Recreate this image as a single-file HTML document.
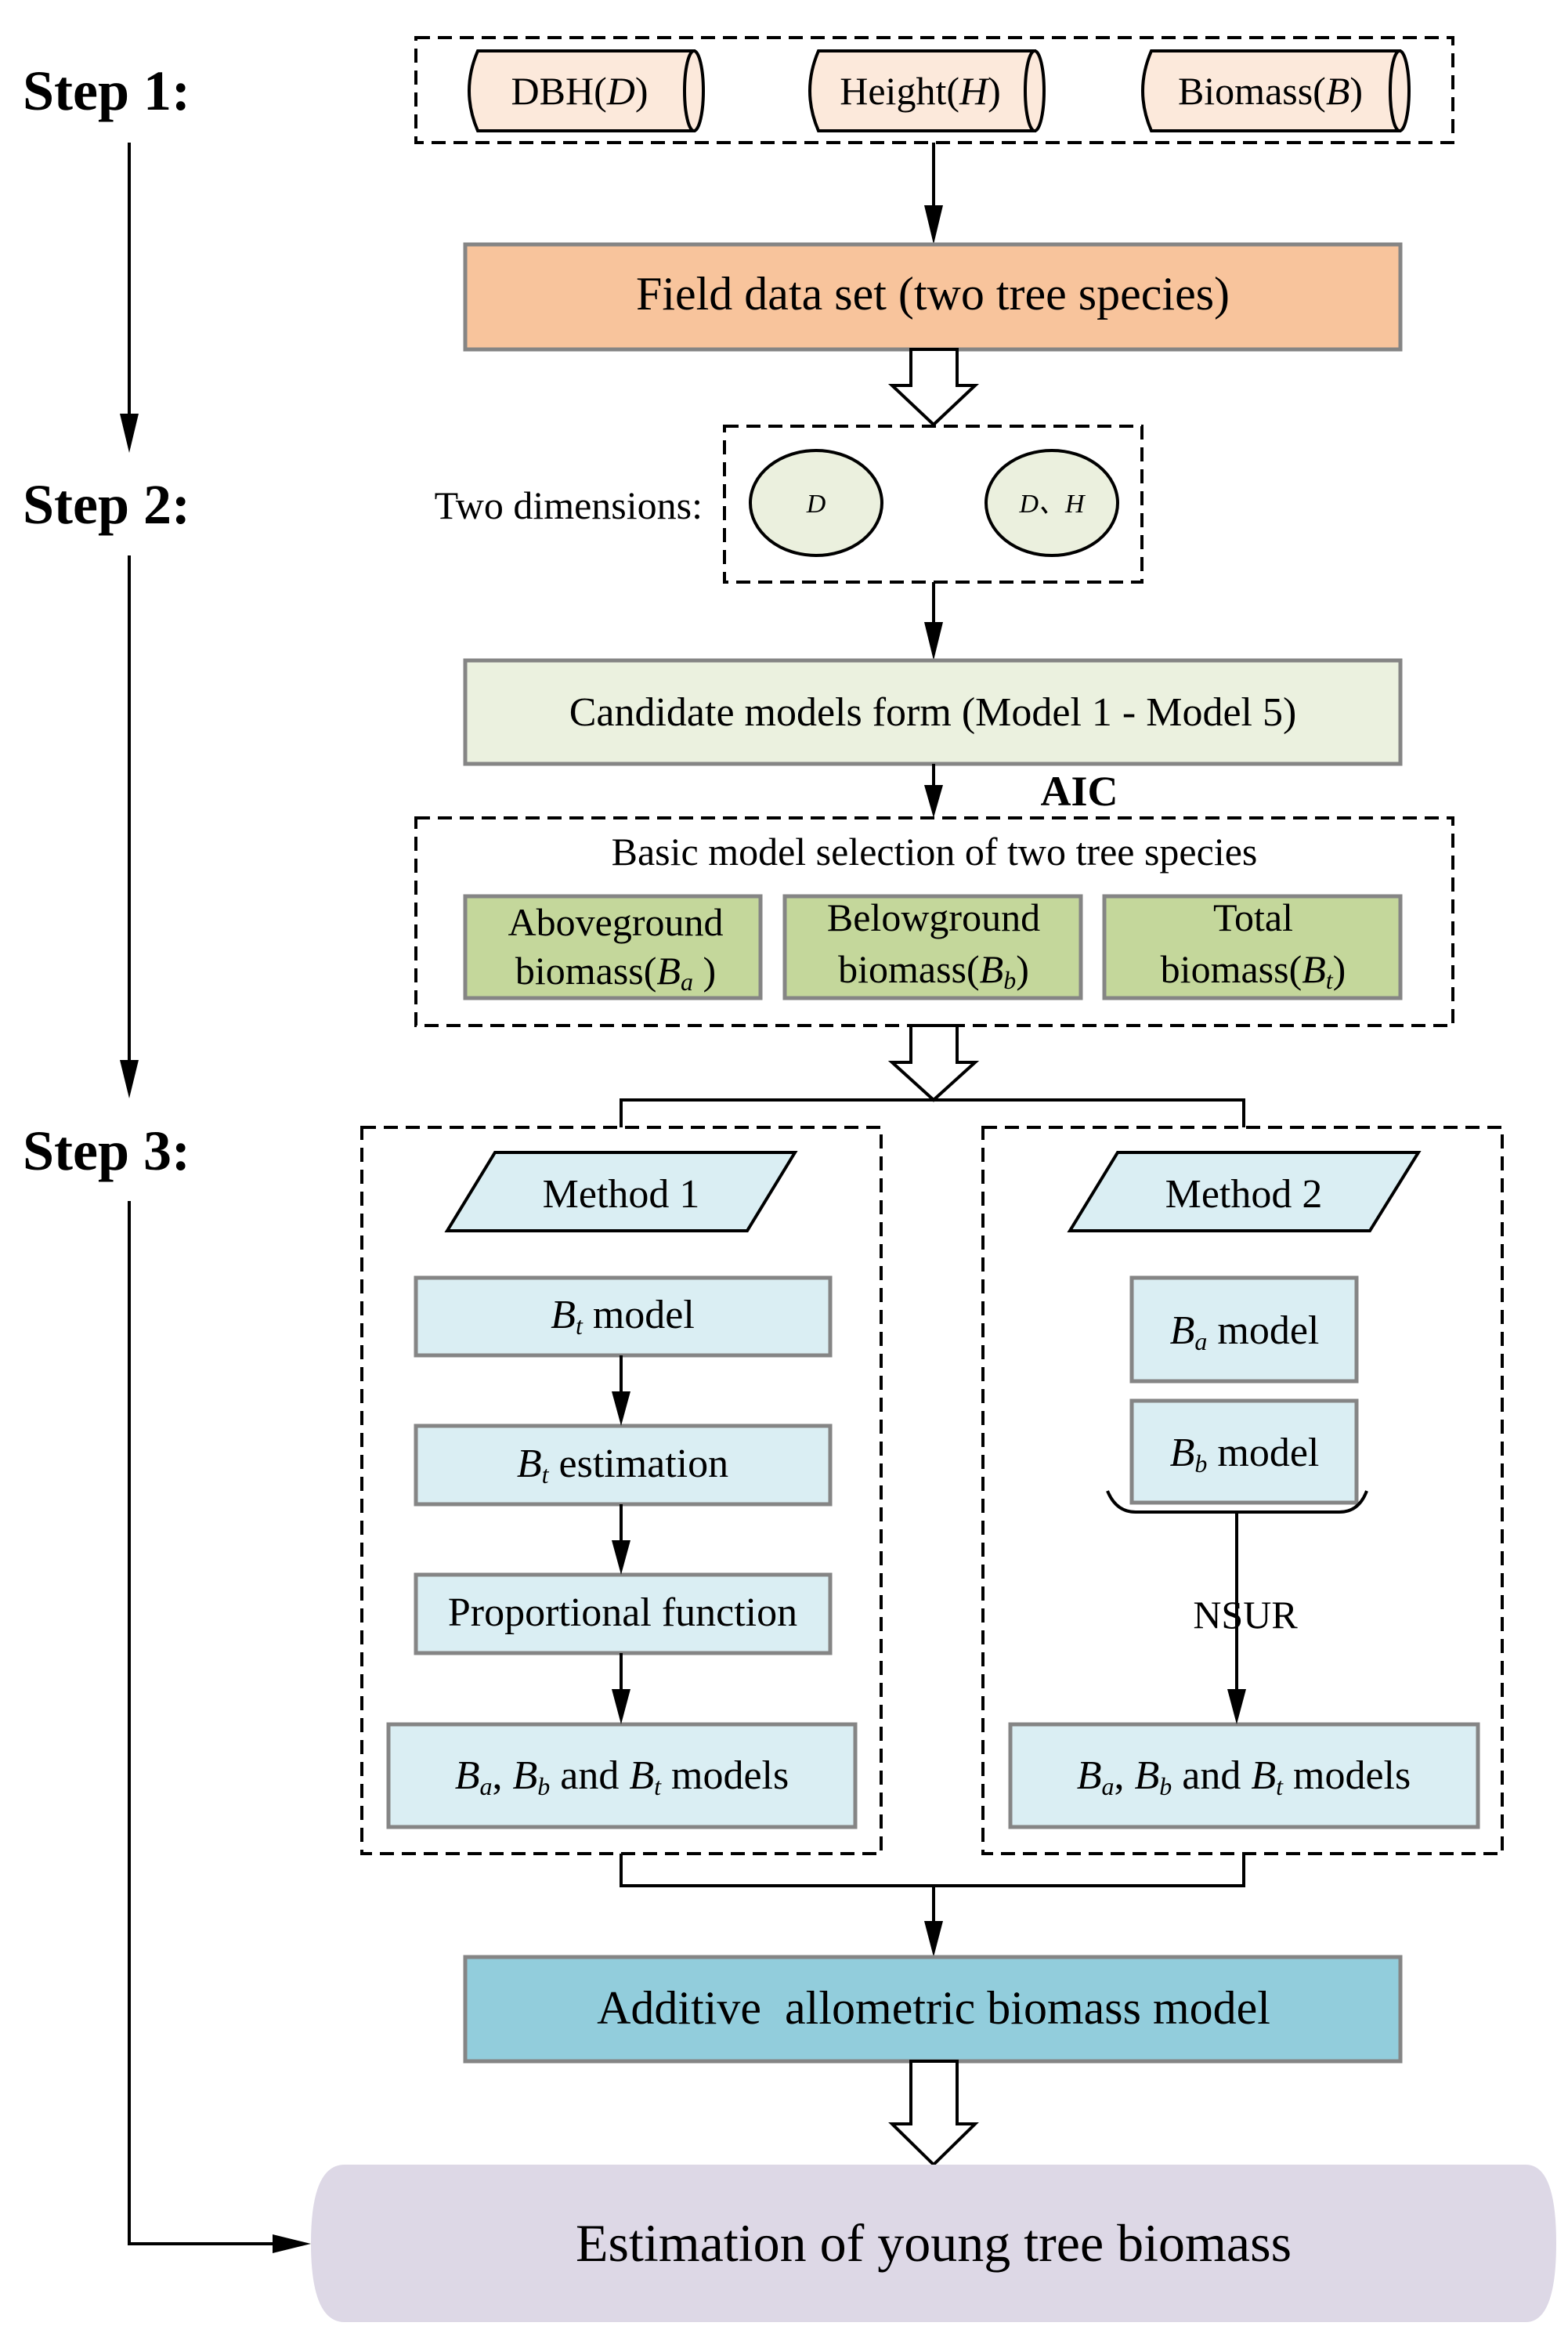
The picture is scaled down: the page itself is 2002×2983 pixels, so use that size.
<!DOCTYPE html>
<html><head><meta charset="utf-8"><style>
html,body{margin:0;padding:0;background:#fff;}
svg{display:block;}
svg text{font-family:"Liberation Serif","Times New Roman",serif !important;fill:#000;}
</style></head><body>
<svg width="2002" height="2983" viewBox="0 0 2002 2983" xmlns="http://www.w3.org/2000/svg" font-family="Liberation Serif, serif">
<style>
text{font-family:"Liberation Serif",serif;}
.dash{fill:none;stroke:#000;stroke-width:4;stroke-dasharray:18 10;}
.ln{stroke:#000;stroke-width:4;fill:none;}
.box{stroke:#858585;stroke-width:5;}
.step{font-weight:bold;font-size:72px;}
</style>

<text class="step" x="29" y="140">Step 1:</text>
<text class="step" x="29" y="668">Step 2:</text>
<text class="step" x="29" y="1493">Step 3:</text>

<line class="ln" x1="165" y1="182" x2="165" y2="530"/>
<polygon points="153,528 177,528 165,578"/>
<line class="ln" x1="165" y1="709" x2="165" y2="1355"/>
<polygon points="153,1353 177,1353 165,1402"/>
<polyline class="ln" points="165,1533 165,2864 350,2864"/>
<polygon points="348,2852 348,2876 397,2864"/>

<rect class="dash" x="531" y="48" width="1324" height="134"/>
<g stroke="#000" stroke-width="4" fill="#fce9db">
<path d="M610,65 L886,65 L886,167 L610,167 Q588,116 610,65Z"/>
<ellipse cx="886" cy="116" rx="12" ry="51"/>
<path d="M1045,65 L1321,65 L1321,167 L1045,167 Q1023,116 1045,65Z"/>
<ellipse cx="1321" cy="116" rx="12" ry="51"/>
<path d="M1470,65 L1787,65 L1787,167 L1470,167 Q1448,116 1470,65Z"/>
<ellipse cx="1787" cy="116" rx="12" ry="51"/>
</g>
<text x="740" y="133" font-size="50" text-anchor="middle">DBH(<tspan font-style="italic">D</tspan>)</text>
<text x="1175" y="133" font-size="50" text-anchor="middle">Height(<tspan font-style="italic">H</tspan>)</text>
<text x="1622" y="133" font-size="50" text-anchor="middle">Biomass(<tspan font-style="italic">B</tspan>)</text>

<line class="ln" x1="1192" y1="182" x2="1192" y2="265"/>
<polygon points="1180,262 1204,262 1192,312"/>

<rect class="box" x="594" y="312" width="1194" height="134" fill="#f8c49c"/>
<text x="1191" y="395" font-size="60" text-anchor="middle">Field data set (two tree species)</text>

<polygon points="1163,446 1222,446 1222,492 1245,492 1192,542 1139,492 1163,492" fill="#fff" stroke="#000" stroke-width="4"/>

<text x="897" y="662" font-size="50" text-anchor="end">Two dimensions:</text>
<rect class="dash" x="925" y="544" width="533" height="199"/>
<ellipse cx="1042" cy="642" rx="84" ry="67" fill="#ebf0de" stroke="#000" stroke-width="4"/>
<ellipse cx="1343" cy="642" rx="84" ry="67" fill="#ebf0de" stroke="#000" stroke-width="4"/>
<text x="1042" y="654" font-size="34" font-style="italic" text-anchor="middle">D</text>
<text x="1343" y="654" font-size="34" font-style="italic" text-anchor="middle">D、H</text>

<line class="ln" x1="1192" y1="743" x2="1192" y2="797"/>
<polygon points="1180,794 1204,794 1192,843"/>

<rect class="box" x="594" y="843" width="1194" height="132" fill="#ebf1df"/>
<text x="1191" y="926" font-size="52" text-anchor="middle">Candidate models form (Model 1 - Model 5)</text>

<line class="ln" x1="1192" y1="975" x2="1192" y2="1005"/>
<polygon points="1180,1002 1204,1002 1192,1044"/>
<text x="1378" y="1028" font-size="54" font-weight="bold" text-anchor="middle">AIC</text>

<rect class="dash" x="531" y="1044" width="1324" height="265"/>
<text x="1193" y="1104" font-size="50" text-anchor="middle">Basic model selection of two tree species</text>
<g class="box" fill="#c4d79b">
<rect x="594" y="1144" width="377" height="130"/>
<rect x="1002" y="1144" width="378" height="130"/>
<rect x="1410" y="1144" width="378" height="130"/>
</g>
<text font-size="50" text-anchor="middle"><tspan x="786" y="1194">Aboveground</tspan><tspan x="786" y="1256">biomass(<tspan font-style="italic">B</tspan><tspan font-style="italic" font-size="32" dy="8">a</tspan><tspan dy="-8"> )</tspan></tspan></text>
<text font-size="50" text-anchor="middle"><tspan x="1192" y="1188">Belowground</tspan><tspan x="1192" y="1254">biomass(<tspan font-style="italic">B</tspan><tspan font-style="italic" font-size="32" dy="8">b</tspan><tspan dy="-8">)</tspan></tspan></text>
<text font-size="50" text-anchor="middle"><tspan x="1600" y="1188">Total</tspan><tspan x="1600" y="1254">biomass(<tspan font-style="italic">B</tspan><tspan font-style="italic" font-size="32" dy="8">t</tspan><tspan dy="-8">)</tspan></tspan></text>

<polygon points="1163,1309 1222,1309 1222,1356 1245,1356 1192,1404 1139,1356 1163,1356" fill="#fff" stroke="#000" stroke-width="4"/>
<polyline class="ln" points="793,1439 793,1404 1588,1404 1588,1439"/>

<rect class="dash" x="462" y="1439" width="663" height="927"/>
<rect class="dash" x="1255" y="1439" width="663" height="927"/>

<polygon points="632,1471 1015,1471 954,1571 571,1571" fill="#daeef3" stroke="#000" stroke-width="4"/>
<polygon points="1427,1471 1811,1471 1749,1571 1366,1571" fill="#daeef3" stroke="#000" stroke-width="4"/>
<text x="793" y="1541" font-size="52" text-anchor="middle">Method 1</text>
<text x="1588" y="1541" font-size="52" text-anchor="middle">Method 2</text>

<g class="box" fill="#daeef3">
<rect x="531" y="1631" width="529" height="99"/>
<rect x="531" y="1820" width="529" height="100"/>
<rect x="531" y="2010" width="529" height="100"/>
<rect x="496" y="2201" width="596" height="131"/>
<rect x="1445" y="1631" width="287" height="132"/>
<rect x="1445" y="1788" width="287" height="130"/>
<rect x="1290" y="2201" width="597" height="131"/>
</g>
<text x="795" y="1695" font-size="52" text-anchor="middle"><tspan font-style="italic">B</tspan><tspan font-style="italic" font-size="32" dy="8">t</tspan><tspan dy="-8"> model</tspan></text>
<text x="795" y="1885" font-size="52" text-anchor="middle"><tspan font-style="italic">B</tspan><tspan font-style="italic" font-size="32" dy="8">t</tspan><tspan dy="-8"> estimation</tspan></text>
<text x="795" y="2075" font-size="52" text-anchor="middle">Proportional function</text>
<text x="794" y="2283" font-size="52" text-anchor="middle"><tspan font-style="italic">B</tspan><tspan font-style="italic" font-size="32" dy="8">a</tspan><tspan dy="-8">, </tspan><tspan font-style="italic">B</tspan><tspan font-style="italic" font-size="32" dy="8">b</tspan><tspan dy="-8"> and </tspan><tspan font-style="italic">B</tspan><tspan font-style="italic" font-size="32" dy="8">t</tspan><tspan dy="-8"> models</tspan></text>
<text x="1589" y="1715" font-size="52" text-anchor="middle"><tspan font-style="italic">B</tspan><tspan font-style="italic" font-size="32" dy="8">a</tspan><tspan dy="-8"> model</tspan></text>
<text x="1589" y="1871" font-size="52" text-anchor="middle"><tspan font-style="italic">B</tspan><tspan font-style="italic" font-size="32" dy="8">b</tspan><tspan dy="-8"> model</tspan></text>
<text x="1588" y="2283" font-size="52" text-anchor="middle"><tspan font-style="italic">B</tspan><tspan font-style="italic" font-size="32" dy="8">a</tspan><tspan dy="-8">, </tspan><tspan font-style="italic">B</tspan><tspan font-style="italic" font-size="32" dy="8">b</tspan><tspan dy="-8"> and </tspan><tspan font-style="italic">B</tspan><tspan font-style="italic" font-size="32" dy="8">t</tspan><tspan dy="-8"> models</tspan></text>

<line class="ln" x1="793" y1="1730" x2="793" y2="1780"/><polygon points="781,1776 805,1776 793,1820"/>
<line class="ln" x1="793" y1="1920" x2="793" y2="1970"/><polygon points="781,1966 805,1966 793,2010"/>
<line class="ln" x1="793" y1="2110" x2="793" y2="2160"/><polygon points="781,2156 805,2156 793,2201"/>

<path class="ln" d="M1414,1903 Q1425,1930 1450,1930 L1710,1930 Q1735,1930 1745,1903"/>
<line class="ln" x1="1579" y1="1930" x2="1579" y2="2160"/>
<polygon points="1567,2156 1591,2156 1579,2201"/>
<text x="1590" y="2078" font-size="50" text-anchor="middle">NSUR</text>

<polyline class="ln" points="793,2366 793,2407 1588,2407 1588,2366"/>
<line class="ln" x1="1192" y1="2407" x2="1192" y2="2455"/>
<polygon points="1180,2452 1204,2452 1192,2498"/>

<rect class="box" x="594" y="2498" width="1194" height="133" fill="#92cddc"/>
<text x="1192" y="2583" font-size="60" text-anchor="middle" xml:space="preserve">Additive  allometric biomass model</text>

<polygon points="1163,2631 1222,2631 1222,2711 1245,2711 1192,2763 1139,2711 1163,2711" fill="#fff" stroke="#000" stroke-width="4"/>

<path d="M440,2763 L1948,2763 Q1987,2763 1987,2863 Q1987,2964 1948,2964 L440,2964 Q397,2964 397,2863 Q397,2763 440,2763Z" fill="#ddd8e6"/>
<text x="1192" y="2886" font-size="68" text-anchor="middle">Estimation of young tree biomass</text>
</svg>
</body></html>
